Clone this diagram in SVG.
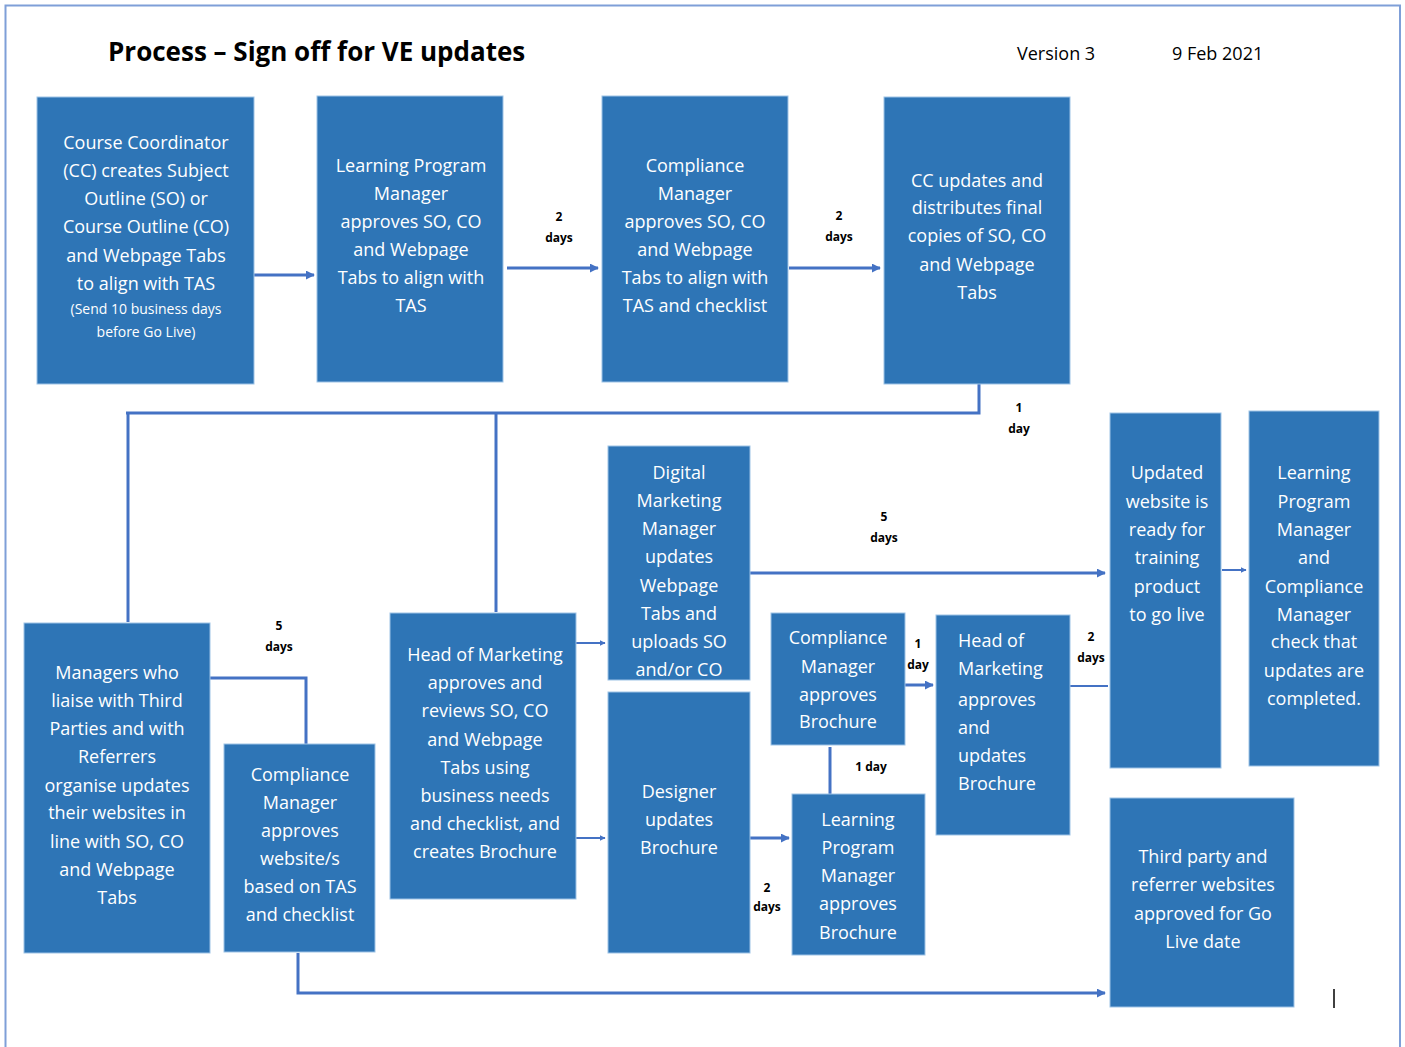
<svg xmlns="http://www.w3.org/2000/svg" width="1405" height="1047" viewBox="0 0 1405 1047">
<defs>
<style>
.n{fill:#2E75B6;stroke:#9DC3E6;stroke-width:1}
.t{font-family:"Open Sans","Noto Sans","Liberation Sans",sans-serif;font-size:18px;fill:#ffffff;text-anchor:middle}
.ts{font-size:14px}
.tl{text-anchor:start}
.c{stroke:#4472C4;stroke-width:3;fill:none}
.c2{stroke:#4472C4;stroke-width:2;fill:none}
.lbl{font-family:"Open Sans","Noto Sans","Liberation Sans",sans-serif;font-size:12px;font-weight:bold;fill:#000;text-anchor:middle}
.h{font-family:"Open Sans","Noto Sans","Liberation Sans",sans-serif;fill:#000}
</style>
<marker id="a" viewBox="0 0 10 10" refX="9" refY="5" markerWidth="3" markerHeight="3" orient="auto" markerUnits="strokeWidth"><path d="M0,0 L10,5 L0,10 z" fill="#4472C4"/></marker>
</defs>
<rect width="1405" height="1047" fill="#ffffff"/>
<path d="M5.5,1047 V5.5 H1400 V1047" fill="none" stroke="#7F9FD8" stroke-width="2"/>
<g id="title">
<text class="h" x="108" y="61" font-size="26" font-weight="bold">Process – Sign off for VE updates</text>
<text class="h" x="1017" y="60" font-size="18">Version 3</text>
<text class="h" x="1172" y="60" font-size="18">9 Feb 2021</text>
</g>
<g id="connectors">
<path class="c" d="M254,275 H314" marker-end="url(#a)"/>
<path class="c" d="M507,268 H598" marker-end="url(#a)"/>
<path class="c" d="M789,268 H880" marker-end="url(#a)"/>
<path class="c" d="M979,384 V413 H126"/>
<path class="c" d="M128,413 V622"/>
<path class="c" d="M496,413 V612"/>
<path class="c" d="M210,678 H306 V744"/>
<path class="c" d="M298,953 V993 H1105" marker-end="url(#a)"/>
<path class="c2" d="M576,643 H605" marker-end="url(#a)"/>
<path class="c2" d="M576,838 H605" marker-end="url(#a)"/>
<path class="c" d="M750,573 H1105" marker-end="url(#a)"/>
<path class="c" d="M750,838 H789" marker-end="url(#a)"/>
<path class="c" d="M830,794 V747"/>
<path class="c" d="M905,685 H933" marker-end="url(#a)"/>
<path class="c2" d="M1070,686 H1108"/>
<path class="c2" d="M1222,570 H1246" marker-end="url(#a)"/>
<text class="lbl"><tspan x="559" y="221">2</tspan><tspan x="559" y="242">days</tspan></text>
<text class="lbl"><tspan x="839" y="220">2</tspan><tspan x="839" y="241">days</tspan></text>
<text class="lbl"><tspan x="1019" y="412">1</tspan><tspan x="1019" y="433">day</tspan></text>
<text class="lbl"><tspan x="279" y="630">5</tspan><tspan x="279" y="651">days</tspan></text>
<text class="lbl"><tspan x="884" y="521">5</tspan><tspan x="884" y="542">days</tspan></text>
<text class="lbl"><tspan x="767" y="892">2</tspan><tspan x="767" y="911">days</tspan></text>
<text class="lbl"><tspan x="871" y="771">1 day</tspan></text>
<text class="lbl"><tspan x="918" y="648">1</tspan><tspan x="918" y="669">day</tspan></text>
<text class="lbl"><tspan x="1091" y="641">2</tspan><tspan x="1091" y="662">days</tspan></text>
</g>
<g id="n1">
<rect class="n" x="37" y="97" width="217" height="287"/>
<text class="t"><tspan x="146" y="149">Course Coordinator</tspan><tspan x="146" y="177">(CC) creates Subject</tspan><tspan x="146" y="205">Outline (SO) or</tspan><tspan x="146" y="233">Course Outline (CO)</tspan><tspan x="146" y="262">and Webpage Tabs</tspan><tspan x="146" y="290">to align with TAS</tspan><tspan class="ts" x="146" y="314">(Send 10 business days</tspan><tspan class="ts" x="146" y="337">before Go Live)</tspan></text>
</g>
<g id="n2">
<rect class="n" x="317" y="96" width="186" height="286"/>
<text class="t"><tspan x="411" y="172">Learning Program</tspan><tspan x="411" y="200">Manager</tspan><tspan x="411" y="228">approves SO, CO</tspan><tspan x="411" y="256">and Webpage</tspan><tspan x="411" y="284">Tabs to align with</tspan><tspan x="411" y="312">TAS</tspan></text>
</g>
<g id="n3">
<rect class="n" x="602" y="96" width="186" height="286"/>
<text class="t"><tspan x="695" y="172">Compliance</tspan><tspan x="695" y="200">Manager</tspan><tspan x="695" y="228">approves SO, CO</tspan><tspan x="695" y="256">and Webpage</tspan><tspan x="695" y="284">Tabs to align with</tspan><tspan x="695" y="312">TAS and checklist</tspan></text>
</g>
<g id="n4">
<rect class="n" x="884" y="97" width="186" height="287"/>
<text class="t"><tspan x="977" y="187">CC updates and</tspan><tspan x="977" y="214">distributes final</tspan><tspan x="977" y="242">copies of SO, CO</tspan><tspan x="977" y="271">and Webpage</tspan><tspan x="977" y="299">Tabs</tspan></text>
</g>
<g id="n5">
<rect class="n" x="24" y="623" width="186" height="330"/>
<text class="t"><tspan x="117" y="679">Managers who</tspan><tspan x="117" y="707">liaise with Third</tspan><tspan x="117" y="735">Parties and with</tspan><tspan x="117" y="763">Referrers</tspan><tspan x="117" y="792">organise updates</tspan><tspan x="117" y="819">their websites in</tspan><tspan x="117" y="848">line with SO, CO</tspan><tspan x="117" y="876">and Webpage</tspan><tspan x="117" y="904">Tabs</tspan></text>
</g>
<g id="n6">
<rect class="n" x="224" y="744" width="151" height="208"/>
<text class="t"><tspan x="300" y="781">Compliance</tspan><tspan x="300" y="809">Manager</tspan><tspan x="300" y="837">approves</tspan><tspan x="300" y="865">website/s</tspan><tspan x="300" y="893">based on TAS</tspan><tspan x="300" y="921">and checklist</tspan></text>
</g>
<g id="n7">
<rect class="n" x="390" y="613" width="186" height="286"/>
<text class="t"><tspan x="485" y="661">Head of Marketing</tspan><tspan x="485" y="689">approves and</tspan><tspan x="485" y="717">reviews SO, CO</tspan><tspan x="485" y="746">and Webpage</tspan><tspan x="485" y="774">Tabs using</tspan><tspan x="485" y="802">business needs</tspan><tspan x="485" y="830">and checklist, and</tspan><tspan x="485" y="858">creates Brochure</tspan></text>
</g>
<g id="n8">
<rect class="n" x="608" y="446" width="142" height="234"/>
<text class="t"><tspan x="679" y="479">Digital</tspan><tspan x="679" y="507">Marketing</tspan><tspan x="679" y="535">Manager</tspan><tspan x="679" y="563">updates</tspan><tspan x="679" y="592">Webpage</tspan><tspan x="679" y="620">Tabs and</tspan><tspan x="679" y="648">uploads SO</tspan><tspan x="679" y="676">and/or CO</tspan></text>
</g>
<g id="n9">
<rect class="n" x="608" y="692" width="142" height="261"/>
<text class="t"><tspan x="679" y="798">Designer</tspan><tspan x="679" y="826">updates</tspan><tspan x="679" y="854">Brochure</tspan></text>
</g>
<g id="n10">
<rect class="n" x="771" y="613" width="134" height="132"/>
<text class="t"><tspan x="838" y="644">Compliance</tspan><tspan x="838" y="673">Manager</tspan><tspan x="838" y="701">approves</tspan><tspan x="838" y="728">Brochure</tspan></text>
</g>
<g id="n11">
<rect class="n" x="792" y="794" width="133" height="161"/>
<text class="t"><tspan x="858" y="826">Learning</tspan><tspan x="858" y="854">Program</tspan><tspan x="858" y="882">Manager</tspan><tspan x="858" y="910">approves</tspan><tspan x="858" y="939">Brochure</tspan></text>
</g>
<g id="n12">
<rect class="n" x="936" y="615" width="134" height="220"/>
<text class="t tl"><tspan x="958" y="647">Head of</tspan><tspan x="958" y="675">Marketing</tspan><tspan x="958" y="706">approves</tspan><tspan x="958" y="734">and</tspan><tspan x="958" y="762">updates</tspan><tspan x="958" y="790">Brochure</tspan></text>
</g>
<g id="n13">
<rect class="n" x="1110" y="413" width="111" height="355"/>
<text class="t"><tspan x="1167" y="479">Updated</tspan><tspan x="1167" y="508">website is</tspan><tspan x="1167" y="536">ready for</tspan><tspan x="1167" y="564">training</tspan><tspan x="1167" y="593">product</tspan><tspan x="1167" y="621">to go live</tspan></text>
</g>
<g id="n14">
<rect class="n" x="1249" y="411" width="130" height="355"/>
<text class="t"><tspan x="1314" y="479">Learning</tspan><tspan x="1314" y="508">Program</tspan><tspan x="1314" y="536">Manager</tspan><tspan x="1314" y="564">and</tspan><tspan x="1314" y="593">Compliance</tspan><tspan x="1314" y="621">Manager</tspan><tspan x="1314" y="648">check that</tspan><tspan x="1314" y="677">updates are</tspan><tspan x="1314" y="705">completed.</tspan></text>
</g>
<g id="n15">
<rect class="n" x="1110" y="798" width="184" height="209"/>
<text class="t"><tspan x="1203" y="863">Third party and</tspan><tspan x="1203" y="891">referrer websites</tspan><tspan x="1203" y="920">approved for Go</tspan><tspan x="1203" y="948">Live date</tspan></text>
</g>
<line x1="1334" y1="989" x2="1334" y2="1008" stroke="#000" stroke-width="1.5"/>
</svg>
